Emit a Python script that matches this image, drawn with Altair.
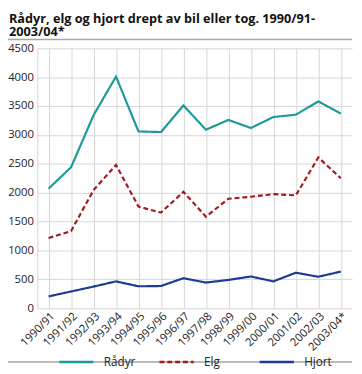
import altair as alt
import pandas as pd

seasons = ["1990/91", "1991/92", "1992/93", "1993/94", "1994/95", "1995/96", "1996/97",
           "1997/98", "1998/99", "1999/00", "2000/01", "2001/02", "2002/03", "2003/04*"]
radyr = [2070, 2440, 3340, 4010, 3060, 3050, 3510, 3090, 3260, 3120, 3310, 3350, 3580, 3370]
elg = [1215, 1335, 2045, 2480, 1760, 1655, 2015, 1585, 1895, 1930, 1975, 1955, 2610, 2250]
hjort = [205, 290, 375, 465, 380, 385, 520, 445, 490, 550, 465, 615, 545, 635]
series = ["Rådyr", "Elg", "Hjort"]
colors = ["#1b9a97", "#a3181b", "#1f3a94"]
dashes = [[1, 0], [5, 3], [1, 0]]

rows = []
for name, vals in zip(series, [radyr, elg, hjort]):
    for s, v in zip(seasons, vals):
        rows.append({"season": s, "value": v, "series": name})
df = pd.DataFrame(rows)

FONT = "Open Sans"
W, H = 322, 266

lines = alt.Chart(df).mark_line(strokeWidth=2.2).encode(
    x=alt.X("season:O", sort=seasons, title=None,
            scale=alt.Scale(type="point", padding=0.5),
            axis=alt.Axis(labelAngle=-45, labelAlign="right", labelBaseline="top",
                          ticks=False, domain=False, grid=True, gridColor="#d6d6d6",
                          labelFont=FONT, labelFontSize=11.5, labelColor="#222",
                          labelPadding=2)),
    y=alt.Y("value:Q", title=None, scale=alt.Scale(domain=[0, 4500], nice=False),
            axis=alt.Axis(values=list(range(0, 4501, 500)), format="d", ticks=False,
                          domain=True, domainColor="#d6d6d6", gridColor="#d6d6d6",
                          labelFont=FONT, labelFontSize=11.5, labelColor="#222",
                          labelPadding=4)),
    color=alt.Color("series:N", scale=alt.Scale(domain=series, range=colors),
                    sort=series, title=None,
                    legend=alt.Legend(orient="none", legendX=21, legendY=302,
                                      direction="horizontal", columns=3,
                                      symbolType="stroke", symbolSize=1225,
                                      symbolStrokeWidth=2.5, labelFont=FONT,
                                      labelFontSize=12, labelColor="#222",
                                      columnPadding=18.5, labelOffset=9,
                                      gridAlign="all")),
    strokeDash=alt.StrokeDash("series:N", scale=alt.Scale(domain=series, range=dashes),
                              sort=series, title=None, legend=None),
)

rule_y = pd.DataFrame({"pos": ["top", "bottom"], "y": [-9, 321]})
rules = alt.Chart(rule_y).mark_rule(color="#a6a6a6", strokeWidth=1.5).encode(
    x=alt.value(-30), x2=alt.value(W), y=alt.Y("y:Q", scale=None))

chart = alt.layer(lines, rules).properties(
    width=W, height=H,
    autosize=alt.AutoSizeParams(type="none"),
    padding={"left": 30, "top": 37, "right": 2, "bottom": 60},
    title=alt.TitleParams(
        ["Rådyr, elg og hjort drept av bil eller tog. 1990/91-", "2003/04*"],
        anchor="start", frame="group", dx=-29, offset=0, fontSize=13,
        font=FONT, fontWeight="bold", color="#111", lineHeight=13.5),
).configure_view(stroke=None)

chart.save("out.html", embed_options={"renderer": "svg", "actions": False})
